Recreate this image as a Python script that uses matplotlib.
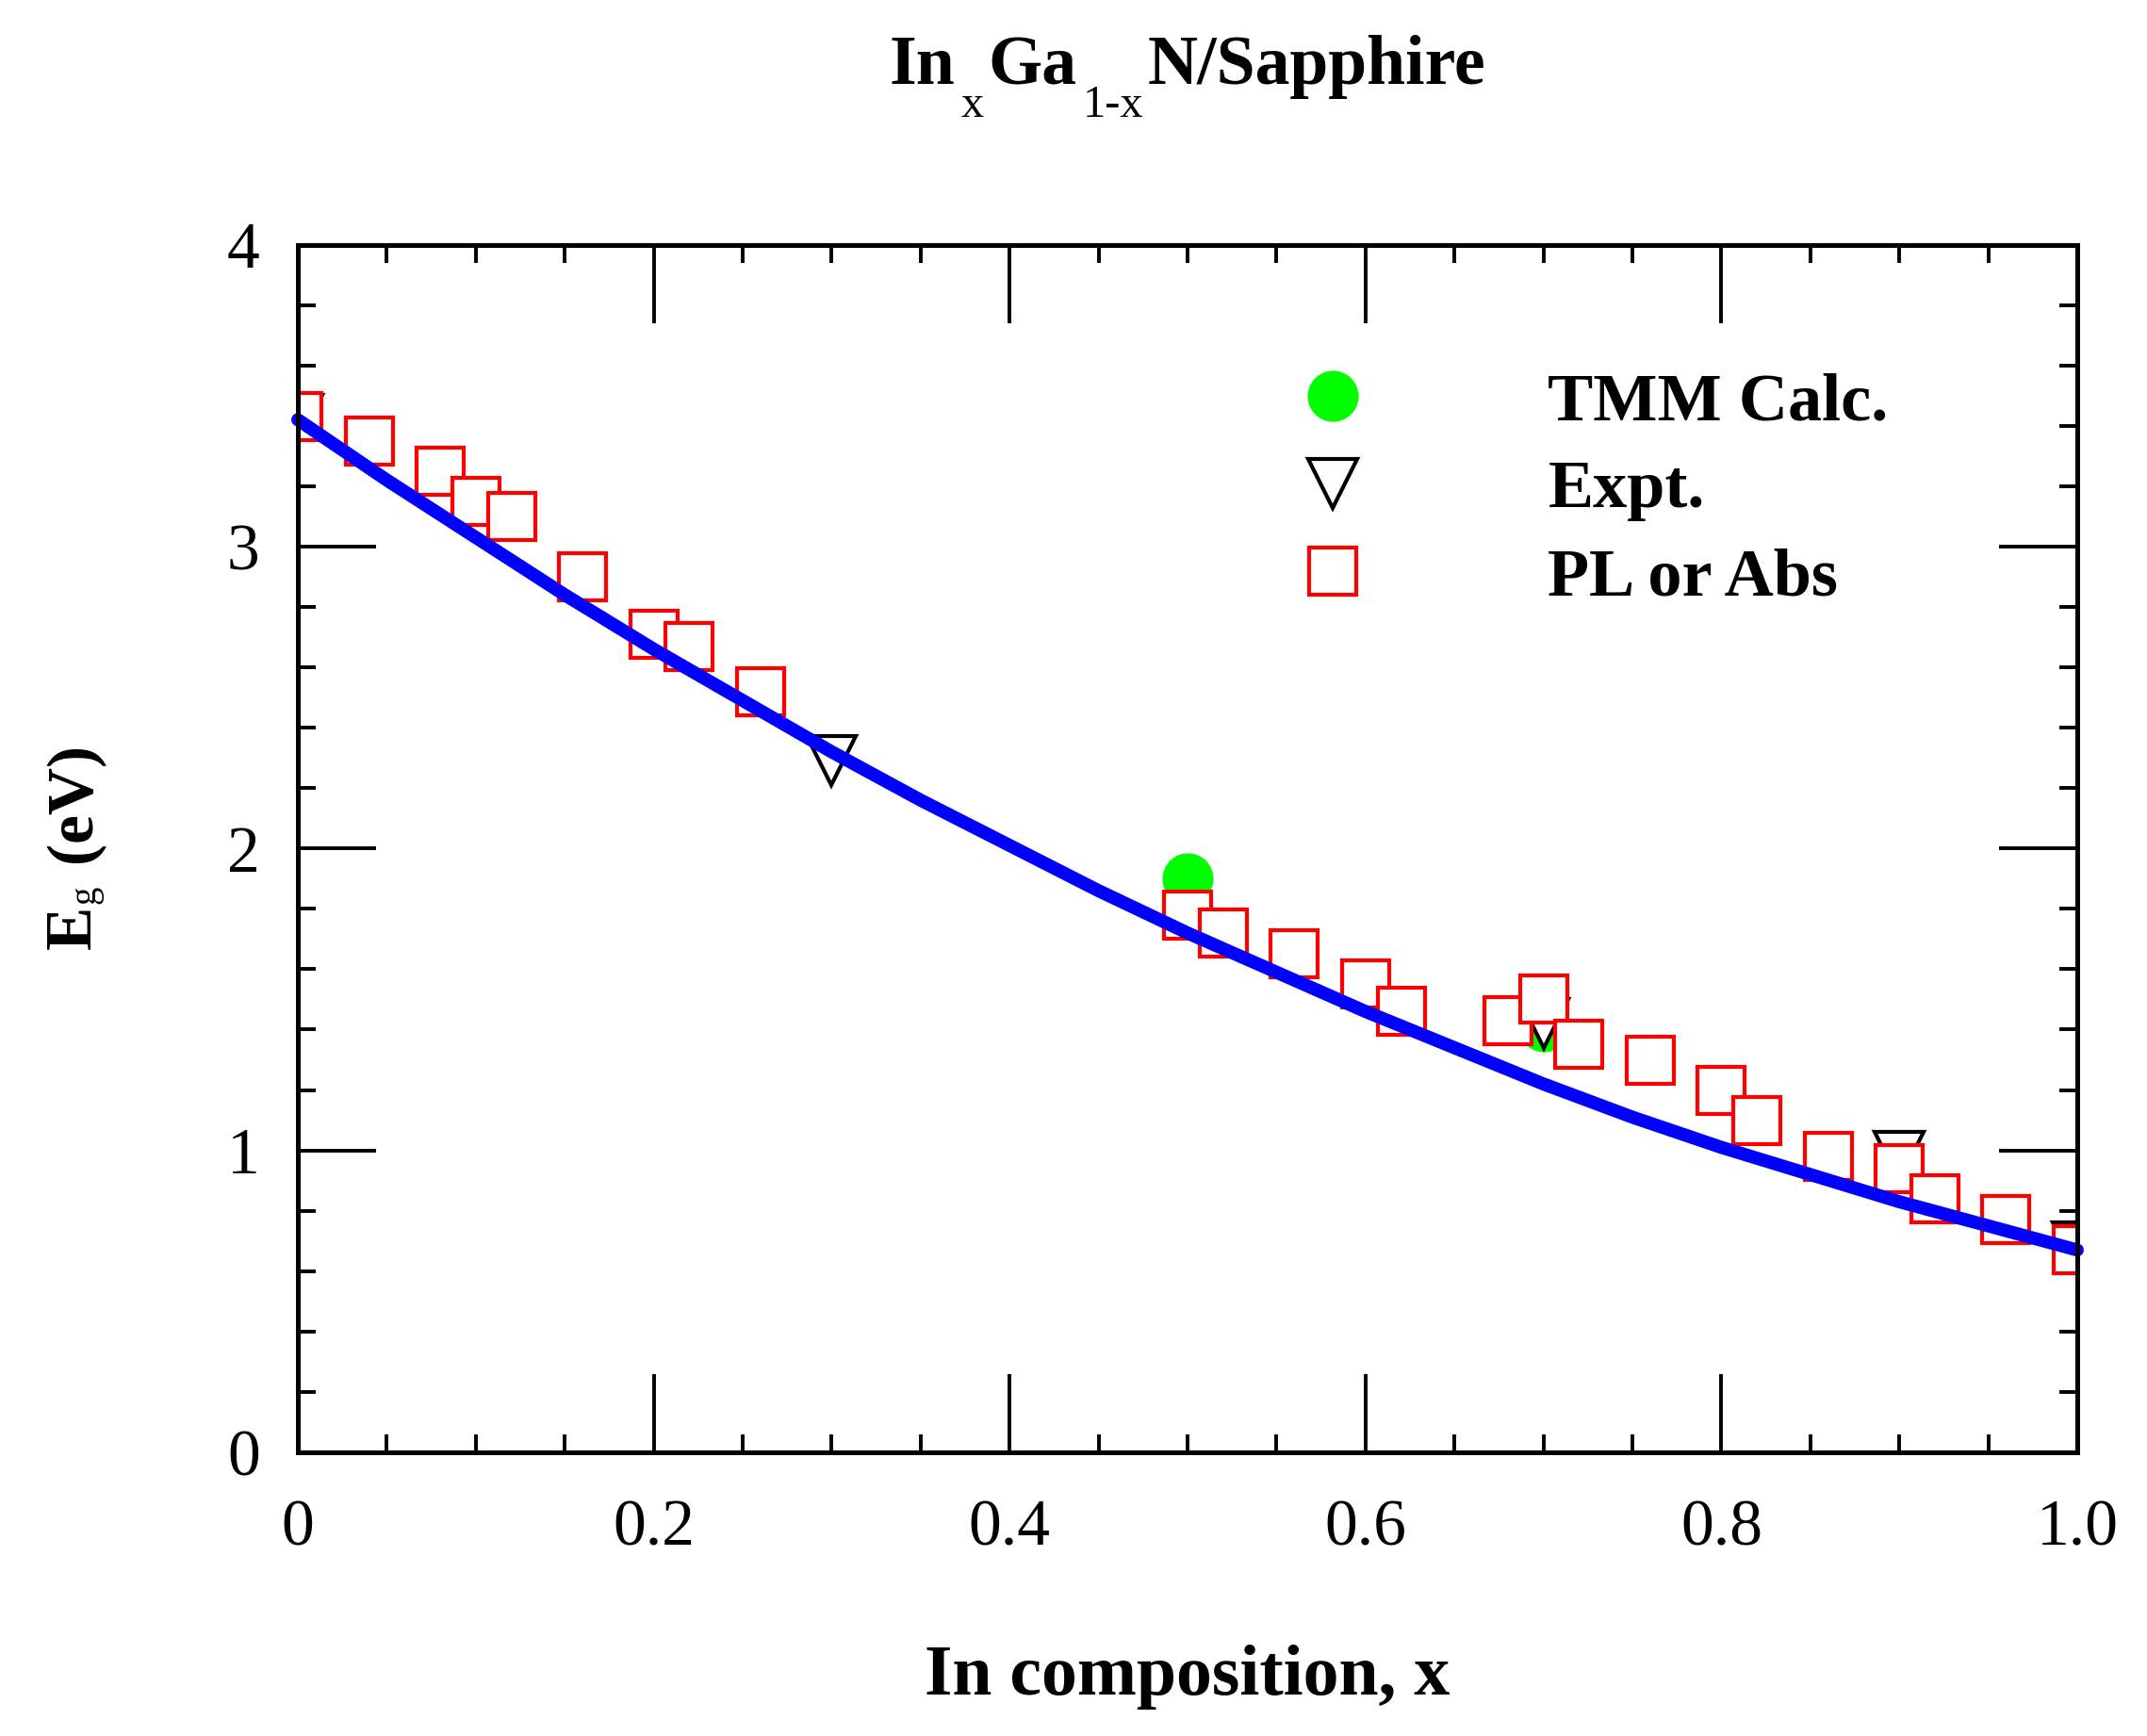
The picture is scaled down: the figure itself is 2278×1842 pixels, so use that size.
import math
import matplotlib
matplotlib.use("Agg")
import matplotlib.pyplot as plt
from matplotlib.ticker import MultipleLocator
from matplotlib.font_manager import FontProperties

# ---------------- data ----------------
curve_x = [0.00, 0.05, 0.10, 0.15, 0.20, 0.25, 0.30, 0.35, 0.40, 0.45, 0.50,
           0.55, 0.60, 0.65, 0.70, 0.75, 0.80, 0.85, 0.90, 0.95, 1.00]
curve_eg = [3.42, 3.22, 3.03, 2.84, 2.66, 2.49, 2.32, 2.16, 2.01, 1.86, 1.72,
            1.59, 1.46, 1.34, 1.22, 1.11, 1.01, 0.92, 0.83, 0.75, 0.67]

tmm_x = [0.50, 0.70]
tmm_eg = [1.90, 1.41]

expt_x = [0.00, 0.30, 0.70, 0.90, 1.00]
expt_eg = [3.42, 2.29, 1.42, 0.98, 0.68]

pl_x = [0.00, 0.04, 0.08, 0.10, 0.12, 0.16, 0.20, 0.22, 0.26, 0.50, 0.52, 0.56,
        0.60, 0.62, 0.68, 0.70, 0.72, 0.76, 0.80, 0.82, 0.86, 0.90, 0.92, 0.96, 1.00]
pl_eg = [3.43, 3.35, 3.25, 3.15, 3.10, 2.90, 2.71, 2.67, 2.52, 1.78, 1.72, 1.65,
         1.55, 1.46, 1.43, 1.50, 1.35, 1.30, 1.20, 1.10, 0.98, 0.94, 0.84, 0.77, 0.67]

x_ticks = [0, 0.2, 0.4, 0.6, 0.8, 1.0]
x_tick_labels = ["0", "0.2", "0.4", "0.6", "0.8", "1.0"]
y_ticks = [0, 1, 2, 3, 4]
y_tick_labels = ["0", "1", "2", "3", "4"]
legend_labels = ["TMM Calc.", "Expt.", "PL or Abs"]
title_parts = [("In", "main"), ("x", "sub"), ("Ga", "main"), ("1-x", "sub"), ("N/Sapphire", "main")]
ylabel_parts = [("E", "main"), ("g", "sub"), ("(eV)", "main")]
xlabel_text = "In composition, x"

# ---------------- figure ----------------
W, H = 2278, 1842
fig = plt.figure(figsize=(W / 100, H / 100), dpi=100)
ax_l, ax_r, ax_t, ax_b = 316, 2204, 259.5, 1541
ax = fig.add_axes([ax_l / W, (H - ax_b) / H, (ax_r - ax_l) / W, (ax_b - ax_t) / H])

serif = "Liberation Serif"

h_tmm, = ax.plot(tmm_x, tmm_eg, linestyle="none", marker="o", ms=39,
                 mfc="#00ff00", mec="#00ff00", mew=0, zorder=3)
h_expt, = ax.plot(expt_x, expt_eg, linestyle="none", marker="v", ms=37,
                  mfc="white", mec="black", mew=3.0, zorder=4)
h_pl, = ax.plot(pl_x, pl_eg, linestyle="none", marker="s", ms=36,
                mfc="white", mec="#ff0000", mew=3.0, zorder=5)
ax.plot(curve_x, curve_eg, color="#0000ff", lw=10, solid_capstyle="round",
        solid_joinstyle="round", zorder=6, clip_on=False)

ax.set_xlim(0, 1)
ax.set_ylim(0, 4)
ax.set_xticks(x_ticks, labels=x_tick_labels)
ax.set_yticks(y_ticks, labels=y_tick_labels)
ax.xaxis.set_minor_locator(MultipleLocator(0.05))
ax.yaxis.set_minor_locator(MultipleLocator(0.2))
ax.tick_params(which="both", direction="in", top=True, right=True,
               width=2.8, color="black")
ax.tick_params(which="major", length=60)
ax.tick_params(which="minor", length=14)
ax.tick_params(axis="x", which="major", pad=36)
ax.tick_params(axis="y", which="major", pad=29)
for lab in ax.get_xticklabels() + ax.get_yticklabels():
    lab.set_fontfamily(serif)
    lab.set_fontsize(50)
for sp in ax.spines.values():
    sp.set_linewidth(3.6)
    sp.set_zorder(7)

leg = ax.legend([h_tmm, h_expt, h_pl], legend_labels, loc="upper left",
                bbox_to_anchor=(0.5434, 0.8945), frameon=False, borderpad=0,
                borderaxespad=0, handlelength=2.0, handletextpad=2.16,
                labelspacing=0.38, numpoints=1,
                prop=FontProperties(family=serif, weight="bold", size=52))
leg.set_zorder(8)

# ---------------- rich text helper ----------------
renderer = fig.canvas.get_renderer()


def rich_text(parts, styles, x_px, y_px, rotation=0):
    objs, widths = [], []
    for (s, kind) in parts:
        size, weight, drop = styles[kind]
        t = fig.text(0, 0, s, fontsize=size, fontweight=weight, family=serif,
                     ha="left", va="baseline", rotation=0, rotation_mode="anchor")
        widths.append(t.get_window_extent(renderer=renderer).width)
        objs.append(t)
    gaps = [0]
    for i in range(1, len(parts)):
        prev_kind, kind = parts[i - 1][1], parts[i][1]
        gaps.append(styles["gap_" + prev_kind + "_" + kind])
    total = sum(widths) + sum(gaps)
    ang = math.radians(rotation)
    ux, uy = math.cos(ang), math.sin(ang)
    nx, ny = -math.sin(ang), math.cos(ang)
    pos = -total / 2
    for t, w, g, (s, kind) in zip(objs, widths, gaps, parts):
        pos += g
        drop = styles[kind][2]
        px = x_px + pos * ux - drop * nx
        py = y_px + pos * uy - drop * ny
        t.set_position((px / W, py / H))
        t.set_rotation(rotation)
        pos += w


title_styles = {"main": (53, "bold", 0), "sub": (35, "normal", 35),
                "gap_main_sub": 6, "gap_sub_main": 5}
rich_text(title_parts, title_styles, 1260, H - 89.3)

ylabel_styles = {"main": (50, "bold", 0), "sub": (28, "normal", 4),
                 "gap_main_sub": 2, "gap_sub_main": 24}
rich_text(ylabel_parts, ylabel_styles, 96, H - 897.5, rotation=90)

fig.text(1260 / W, (H - 1798.3) / H, xlabel_text, fontsize=54.5, fontweight="bold",
         family=serif, ha="center", va="baseline")

fig.savefig("out.png", dpi=100)
